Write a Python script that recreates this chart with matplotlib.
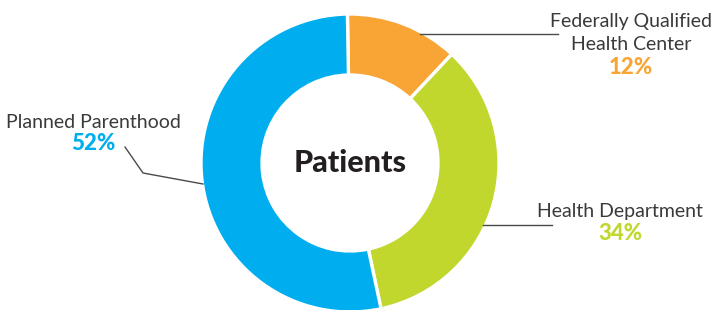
import matplotlib.pyplot as plt

# data
labels = ["Federally Qualified\nHealth Center", "Health Department", "Planned Parenthood"]
shares = [12, 34, 52]
colors = ["#F8A535", "#C1D72E", "#00ADEE"]

plt.rcParams["font.family"] = ["Lato", "DejaVu Sans"]

W, H = 712, 310
fig = plt.figure(figsize=(W / 100, H / 100), dpi=100)
ax = fig.add_axes([0, 0, 1, 1])

cx, cy, r = 350, H - 163, 149
ax.pie(shares, colors=colors, startangle=91, counterclock=False,
       center=(cx, cy), radius=r, frame=True,
       wedgeprops=dict(width=61, edgecolor="white", linewidth=2.4))
ax.set_xlim(0, W)
ax.set_ylim(0, H)
ax.set_aspect("equal")
ax.axis("off")

ax.text(cx, cy, "Patients", ha="center", va="center", fontsize=22,
        fontweight="black", color="#231F20")

txt = "#3a3a3a"
line = "#4a4a4a"
fs = 14
pfs = 16

# FQHC
ax.plot([420, 558], [H - 34, H - 34], color=line, lw=1)
ax.text(631, H - 22, "Federally Qualified", ha="center", va="center", fontsize=fs, color=txt)
ax.text(631, H - 45, "Health Center", ha="center", va="center", fontsize=fs, color=txt)
ax.text(631, H - 68, f"{shares[0]}%", ha="center", va="center", fontsize=pfs,
        fontweight="black", color=colors[0])

# Health Department
ax.plot([483, 552], [H - 225, H - 225], color=line, lw=1)
ax.text(620, H - 212, labels[1], ha="center", va="center", fontsize=fs, color=txt)
ax.text(620, H - 234, f"{shares[1]}%", ha="center", va="center", fontsize=pfs,
        fontweight="black", color=colors[1])

# Planned Parenthood
ax.plot([125, 143, 203], [H - 147, H - 173, H - 184], color=line, lw=1)
ax.text(93, H - 122, labels[2], ha="center", va="center", fontsize=fs, color=txt)
ax.text(93, H - 144, f"{shares[2]}%", ha="center", va="center", fontsize=pfs,
        fontweight="black", color=colors[2])

fig.savefig("out.png", dpi=100)
